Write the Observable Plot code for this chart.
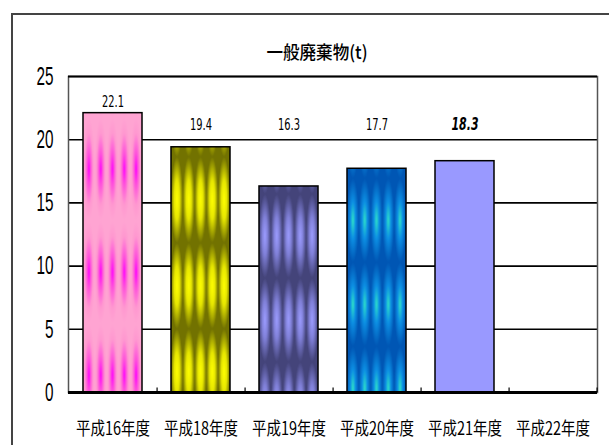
<!DOCTYPE html>
<html>
<head>
<meta charset="utf-8">
<script src="https://cdn.jsdelivr.net/npm/d3@7"></script>
<script src="https://cdn.jsdelivr.net/npm/@observablehq/plot@0.6"></script>
<style>
html, body { margin: 0; padding: 0; background: #fff; }
#wrap { position: relative; width: 609px; height: 445px; overflow: hidden; }
#frame { position: absolute; left: 11px; top: 13px; width: 700px; height: 600px; border-left: 2px solid #444; border-top: 2px solid #444; }
#title { position: absolute; left: 0; top: 40px; width: 634px; text-align: center; font-family: "Noto Sans CJK JP", sans-serif; font-size: 18px; font-weight: 500; line-height: 22px; color: #000; }
#title span { display: inline-block; transform: scaleX(0.92); }
#chart { position: absolute; left: 0; top: 0; }
</style>
</head>
<body>
<div id="wrap">
  <div id="frame"></div>
  <div id="chart"></div>
  <div id="title"><span></span></div>
</div>
<script>
// ---- data ----
const title = "一般廃棄物(t)";
const categories = ["平成16年度", "平成18年度", "平成19年度", "平成20年度", "平成21年度", "平成22年度"];
const values = [22.1, 19.4, 16.3, 17.7, 18.3, null];
const valueLabels = ["22.1", "19.4", "16.3", "17.7", "18.3", ""];
const emphasis = [false, false, false, false, true, false];
const yTicks = [0, 5, 10, 15, 20, 25];

// ---- styles ----
const fills = ["url(#pat0)", "url(#pat1)", "url(#pat2)", "url(#pat3)", "#9999ff", "none"];
const gradStops = [
  [["0%", "#ff00ff"], ["30%", "#ff50dc"], ["70%", "#ff98d0"], ["100%", "#ffa4d2"]],
  [["0%", "#ffff00"], ["45%", "#e6e600"], ["100%", "#727200"]],
  [["0%", "#9c9cff"], ["45%", "#8080d8"], ["100%", "#44447a"]],
  [["0%", "#2ee0c8"], ["45%", "#0c8ee2"], ["100%", "#0056b4"]]
];
const periods = [103, 86, 84, 84];
const phases = [5, 10, 8, 10];

document.querySelector("#title span").textContent = title;

const data = categories.map((c, i) => ({cat: c, value: values[i], label: valueLabels[i], fill: fills[i], emph: emphasis[i]}));
const bars = data.filter(d => d.value != null);
const plainLabels = bars.filter(d => !d.emph);
const emphLabels = bars.filter(d => d.emph);

const W = 609, H = 445, mL = 68, mR = 12, mT = 76, mB = 53;
const pIn = 0.33, pOut = 0.165;
const step = d3.scaleBand().domain(categories).range([mL, W - mR]).paddingInner(pIn).paddingOuter(pOut).step();

const chart = Plot.plot({
  width: W, height: H,
  marginLeft: mL, marginRight: mR, marginTop: mT, marginBottom: mB,
  style: {fontFamily: "'Liberation Sans Narrow', 'DejaVu Sans Condensed', sans-serif", background: "transparent", color: "#000"},
  x: {domain: categories, paddingInner: pIn, paddingOuter: pOut, tickSize: 0, tickPadding: 30, label: null},
  y: {domain: [0, 25], ticks: yTicks, tickSize: 0, tickPadding: 15, label: null},
  color: {type: "identity"},
  marks: [
    Plot.ruleY(yTicks.filter(t => t > 0 && t < 25), {stroke: "#000", strokeWidth: 1.6}),
    Plot.frame({stroke: "#555", strokeWidth: 1.5}),
    Plot.ruleY([25], {stroke: "#000", strokeWidth: 2}),
    Plot.barY(bars, {x: "cat", y: "value", fill: "fill", stroke: "#000", strokeWidth: 1.5}),
    Plot.ruleY([0], {stroke: "#000", strokeWidth: 3}),
    Plot.ruleX(categories, {x: d => d, y1: 0, y2: 0.35, dx: step / 2, stroke: "#000", strokeWidth: 1.2}),
    Plot.text(plainLabels, {x: "cat", y: d => Math.max(d.value + 0.9, 21.2), text: "label", fontSize: 16, fill: "#000"}),
    Plot.text(emphLabels, {x: "cat", y: d => Math.max(d.value + 0.9, 21.2), text: "label", fontSize: 18, fontWeight: "bold", fontStyle: "italic", fill: "#000"})
  ]
});

const svg = d3.select(chart);
const defs = svg.insert("defs", ":first-child");
svg.selectAll('g[aria-label="bar"] rect').each(function(_, i) {
  if (i >= gradStops.length) return;
  const x = +this.getAttribute("x"), y = +this.getAttribute("y"), w = +this.getAttribute("width");
  const grad = defs.append("radialGradient").attr("id", "grad" + i);
  gradStops[i].forEach(([o, c]) => grad.append("stop").attr("offset", o).attr("stop-color", c));
  const pat = defs.append("pattern").attr("id", "pat" + i)
    .attr("patternUnits", "userSpaceOnUse")
    .attr("x", x).attr("y", y + phases[i])
    .attr("width", w / 5).attr("height", periods[i]);
  pat.append("rect").attr("width", w / 5).attr("height", periods[i]).attr("fill", `url(#grad${i})`);
});

svg.selectAll('g[aria-label^="y-axis"] text').each(function() {
  const t = this.textContent;
  d3.select(this).style("font-size", "26px").style("font-family", "'Liberation Sans Narrow', sans-serif")
    .attr("textLength", t.length * 8.5).attr("lengthAdjust", "spacingAndGlyphs");
});
svg.selectAll('g[aria-label^="x-axis"] text').each(function() {
  d3.select(this).style("font-size", "18px").style("font-family", "'Noto Sans CJK JP', sans-serif")
    .attr("textLength", 74).attr("lengthAdjust", "spacingAndGlyphs");
});
svg.selectAll('g[aria-label="text"] text').each(function() {
  const bold = this.closest("g").getAttribute("font-weight") === "bold" || this.getAttribute("font-weight") === "bold";
  d3.select(this).attr("textLength", bold ? 27 : 22).attr("lengthAdjust", "spacingAndGlyphs");
});

document.getElementById("chart").append(chart);
</script>
</body>
</html>
